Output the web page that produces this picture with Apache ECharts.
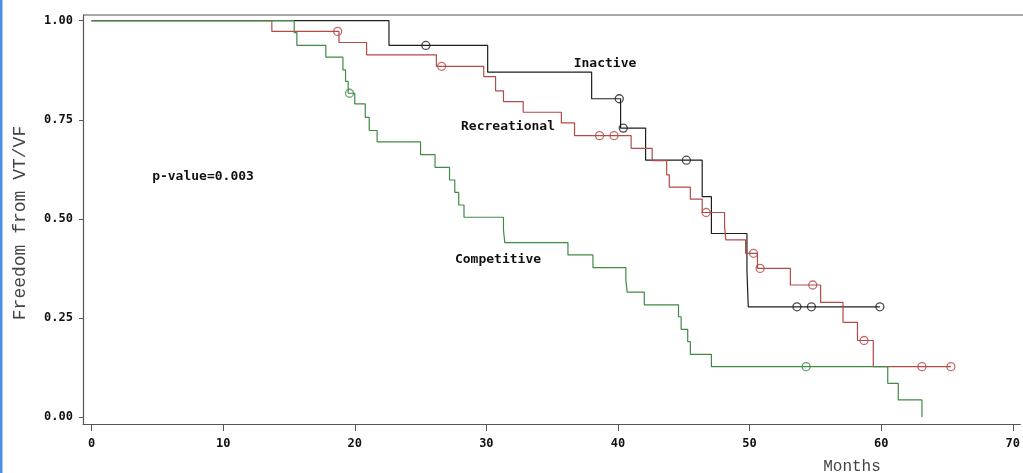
<!DOCTYPE html>
<html>
<head>
<meta charset="utf-8">
<script src="https://cdn.jsdelivr.net/npm/echarts@6/dist/echarts.min.js"></script>
<style>
html,body{margin:0;padding:0;background:#fff;}
#chart{width:1023px;height:473px;}
</style>
</head>
<body>
<div id="chart"></div>
<script>
// ---- data ----
const monthTicks = [0, 10, 20, 30, 40, 50, 60, 70];
const survTicks = [0, 0.25, 0.5, 0.75, 1];

const inactiveTimes = [22.6, 30.1, 38.0, 40.2, 42.1, 46.4, 47.1, 49.8, 49.9];
const inactiveSurv  = [0.9375, 0.870, 0.803, 0.729, 0.648, 0.556, 0.463, 0.370, 0.278];
const inactiveCensor = [25.4, 40.1, 40.4, 45.2, 53.6, 54.7, 59.9];

const recreationalTimes = [13.7, 18.8, 20.9, 26.2, 29.8, 30.7, 31.3, 32.8, 35.7, 36.7, 41.0, 42.6, 43.7, 43.9, 45.5, 46.4, 48.1, 48.2, 49.7, 50.6, 53.1, 55.4, 57.1, 58.2, 59.4];
const recreationalSurv  = [0.973, 0.945, 0.914, 0.885, 0.859, 0.823, 0.796, 0.769, 0.742, 0.710, 0.678, 0.647, 0.611, 0.580, 0.550, 0.516, 0.481, 0.447, 0.413, 0.375, 0.333, 0.289, 0.239, 0.193, 0.127];
const recreationalCensor = [18.7, 26.6, 38.6, 39.7, 46.7, 50.3, 50.8, 54.8, 58.7, 63.1, 65.3];

const competitiveTimes = [15.4, 15.6, 17.8, 19.1, 19.3, 19.5, 20.0, 20.8, 21.1, 21.7, 25.0, 26.1, 27.2, 27.6, 27.9, 28.3, 31.3, 31.4, 36.2, 38.1, 40.6, 40.7, 42.0, 44.6, 44.8, 45.3, 45.5, 47.1, 60.5, 61.3, 63.1];
const competitiveSurv  = [0.970, 0.938, 0.908, 0.876, 0.847, 0.817, 0.790, 0.756, 0.723, 0.694, 0.662, 0.630, 0.598, 0.567, 0.535, 0.504, 0.472, 0.440, 0.409, 0.377, 0.346, 0.315, 0.283, 0.253, 0.221, 0.190, 0.158, 0.127, 0.085, 0.043, 0.0];
const competitiveCensor = [19.6, 54.3];

// ---- helpers ----
function stepPoints(times, surv, censor) {
  const pts = [[0, 1]];
  times.forEach((t, i) => pts.push([t, surv[i]]));
  const end = Math.max(times[times.length - 1], ...censor);
  pts.push([end, surv[surv.length - 1]]);
  return pts;
}
function survAt(times, surv, t) {
  let v = 1;
  for (let i = 0; i < times.length; i++) { if (times[i] <= t) v = surv[i]; }
  return v;
}
function censorPoints(times, surv, censor) {
  return censor.map(t => [t, survAt(times, surv, t)]);
}

const BLACK = '#1e1e1e', RED = '#b24a48', GREEN = '#3f8a44';
const tickFont = { fontFamily: 'DejaVu Sans Mono', fontWeight: 'bold', fontSize: 12, color: '#111' };

function lineSeries(name, times, surv, censor, color) {
  return [{
    name, type: 'line', step: 'end', showSymbol: false, symbol: 'none',
    data: stepPoints(times, surv, censor),
    lineStyle: { color, width: 1.2 }, silent: true
  }, {
    name: name + ' censored', type: 'scatter', symbol: 'circle', symbolSize: 8,
    data: censorPoints(times, surv, censor),
    itemStyle: { color: 'rgba(0,0,0,0)', borderColor: color, borderWidth: 1.3 }, silent: true
  }];
}

const chart = echarts.init(document.getElementById('chart'), null, { renderer: 'canvas' });
const annFont = { fontFamily: 'DejaVu Sans Mono', fontWeight: 'bold', fontSize: 13, fill: '#111' };
chart.setOption({
  animation: false,
  backgroundColor: '#fff',
  grid: { left: 83, right: 0, top: 15, bottom: 49, containLabel: false },
  xAxis: {
    type: 'value', min: -0.65, max: 70.57,
    axisLine: { show: true, onZero: false, lineStyle: { color: '#555', width: 1.2 } },
    axisTick: { show: true, length: 7, customValues: monthTicks, lineStyle: { color: '#555' } },
    axisLabel: { customValues: monthTicks, margin: 14, ...tickFont },
    splitLine: { show: false }
  },
  yAxis: {
    type: 'value', min: -0.0177, max: 1.0144,
    axisLine: { show: true, onZero: false, lineStyle: { color: '#555', width: 1.2 } },
    axisTick: { show: true, length: 4, customValues: survTicks, lineStyle: { color: '#555' } },
    axisLabel: { customValues: survTicks, margin: 10, formatter: v => v.toFixed(2), ...tickFont },
    splitLine: { show: false }
  },
  series: [
    ...lineSeries('Inactive', inactiveTimes, inactiveSurv, inactiveCensor, BLACK),
    ...lineSeries('Recreational', recreationalTimes, recreationalSurv, recreationalCensor, RED),
    ...lineSeries('Competitive', competitiveTimes, competitiveSurv, competitiveCensor, GREEN)
  ],
  graphic: [
    { type: 'rect', left: 0, top: 0, shape: { width: 2.5, height: 473 }, style: { fill: '#4a8fe3' } },
    { type: 'line', shape: { x1: 83, y1: 15, x2: 1023, y2: 15 }, style: { stroke: '#555', lineWidth: 1.2 } },
    { type: 'text', x: 605, y: 64, style: { text: 'Inactive', align: 'center', verticalAlign: 'middle', ...annFont } },
    { type: 'text', x: 508, y: 127, style: { text: 'Recreational', align: 'center', verticalAlign: 'middle', ...annFont } },
    { type: 'text', x: 498, y: 260, style: { text: 'Competitive', align: 'center', verticalAlign: 'middle', ...annFont } },
    { type: 'text', x: 203, y: 177, style: { text: 'p-value=0.003', align: 'center', verticalAlign: 'middle', ...annFont } },
    { type: 'text', x: 852, y: 467, style: { text: 'Months', align: 'center', verticalAlign: 'middle', fontFamily: 'Liberation Mono', fontSize: 16, fill: '#444' } },
    { type: 'text', x: 20, y: 223, rotation: Math.PI / 2, style: { text: 'Freedom from VT/VF', align: 'center', verticalAlign: 'middle', fontFamily: 'Liberation Mono', fontSize: 18, fill: '#444' } }
  ]
});
</script>
</body>
</html>
